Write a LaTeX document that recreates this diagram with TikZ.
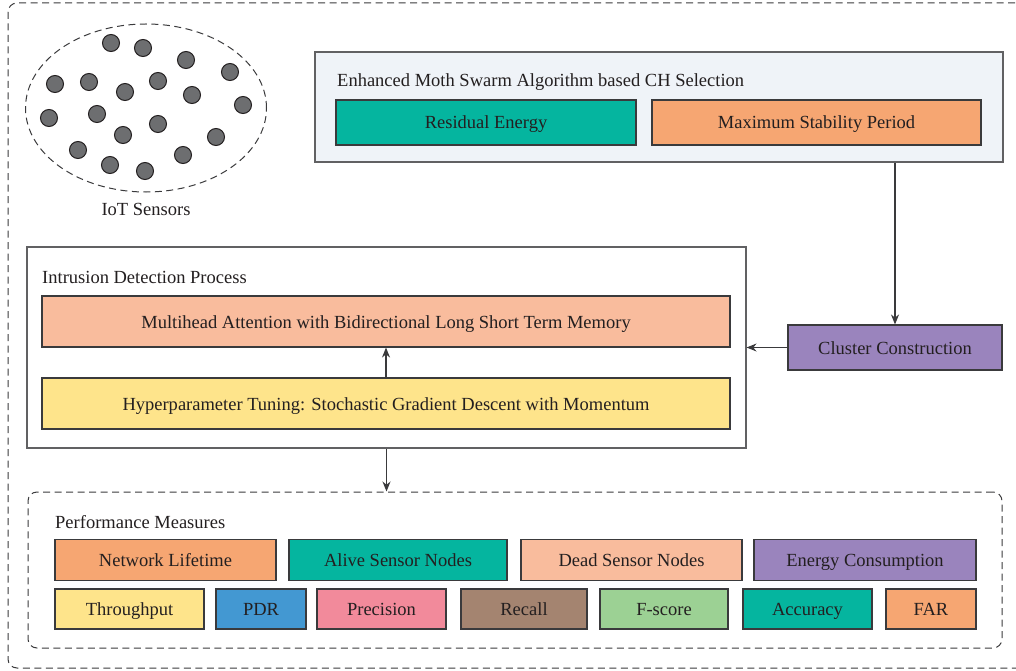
\documentclass[tikz,border=0pt]{standalone}
\usepackage{fontspec}
\setmainfont{Liberation Serif}
\usetikzlibrary{arrows.meta,shapes.geometric}
\definecolor{txt}{HTML}{231F20}
\definecolor{bord}{HTML}{3A3A3C}
\definecolor{teal}{HTML}{05B59F}
\definecolor{orng}{HTML}{F6A672}
\definecolor{peach}{HTML}{F9BC9D}
\definecolor{purp}{HTML}{9A84BD}
\definecolor{yell}{HTML}{FEE48B}
\definecolor{blu}{HTML}{4398D2}
\definecolor{pink}{HTML}{F28A9B}
\definecolor{brwn}{HTML}{A48470}
\definecolor{grn}{HTML}{9CD194}
\definecolor{panel}{HTML}{EFF3F8}
\definecolor{dotc}{HTML}{6D6E70}
\tikzset{
  box/.style={draw=bord, line width=1.1pt, inner sep=0pt, text=txt, text height=14pt, text depth=1pt, font=\fontsize{18.5}{21}\selectfont},
  title/.style={anchor=west, inner sep=0pt, text=txt, font=\fontsize{18.5}{21}\selectfont},
  frame/.style={draw=bord!80, line width=1.1pt, inner sep=0pt},
  arr/.style={draw=bord, line width=1.1pt, -{Stealth[length=10pt,width=8pt]}},
  dot/.style={circle, draw=txt, line width=1pt, fill=dotc, minimum size=17pt, inner sep=0pt},
  dashbox/.style={draw=bord, line width=1pt, dash pattern=on 7pt off 4.5pt, rounded corners=9pt}
}
\begin{document}
\begin{tikzpicture}[x=1pt,y=-1pt]
\useasboundingbox (0,0) rectangle (1016,671);
\clip (0,0) rectangle (1016,671);
% outer frame
\draw[dashbox] (8,3) rectangle (1030,668);
% IoT sensors
\node[ellipse, draw=bord, line width=1pt, dash pattern=on 7pt off 4.5pt, minimum width=241pt, minimum height=168pt, inner sep=0pt] (cloud) at (146,108) {};
\foreach \i/\p in {1/{(111,43)},2/{(143,48)},3/{(186,60)},4/{(230,72)},5/{(55,84)},6/{(89,82)},7/{(125,92)},8/{(158,81)},9/{(192,95)},10/{(243,105)},11/{(49,118)},12/{(97,114)},13/{(158,124)},14/{(123,135)},15/{(216,137)},16/{(78,150)},17/{(183,155)},18/{(110,165)},19/{(145,171)}}
  \node[dot] (d\i) at \p {};
\node[title, anchor=center] (iot) at (146,209) {IoT Sensors};
% CH selection
\node[frame, fill=panel, minimum width=688pt, minimum height=110pt] (ch) at (659,107) {};
\node[title] (cht) at (337,82) {Enhanced Moth Swarm Algorithm based CH Selection};
\node[box, fill=teal, minimum width=300pt, minimum height=45pt] (re) at (486,122.5) {Residual Energy};
\node[box, fill=orng, minimum width=329pt, minimum height=45pt] (msp) at (816.5,122.5) {Maximum Stability Period};
% cluster construction
\node[box, fill=purp, minimum width=214pt, minimum height=45pt] (cc) at (895,347.5) {Cluster Construction};
% intrusion detection
\node[frame, fill=white, minimum width=719pt, minimum height=201pt] (idp) at (386.5,347.5) {};
\node[title] (idpt) at (42,277) {Intrusion Detection Process};
\node[box, fill=peach, minimum width=688pt, minimum height=51pt] (mha) at (386,321.5) {Multihead Attention with Bidirectional Long Short Term Memory};
\node[box, fill=yell, minimum width=688pt, minimum height=51pt] (hyp) at (386,403.5) {Hyperparameter Tuning: Stochastic Gradient Descent with Momentum};
% performance measures
\node[dashbox, minimum width=974pt, minimum height=156pt, inner sep=0pt] (pm) at (515,570) {};
\node[title] (pmt) at (55,522) {Performance Measures};
\node[box, fill=orng, minimum width=221pt, minimum height=41pt] (nl) at (165.5,560) {Network Lifetime};
\node[box, fill=teal, minimum width=218pt, minimum height=41pt] (asn) at (398,560) {Alive Sensor Nodes};
\node[box, fill=peach, minimum width=221pt, minimum height=41pt] (dsn) at (631.5,560) {Dead Sensor Nodes};
\node[box, fill=purp, minimum width=222pt, minimum height=41pt] (ec) at (865,560) {Energy Consumption};
\node[box, fill=yell, minimum width=149pt, minimum height=40pt] (tp) at (129.5,609) {Throughput};
\node[box, fill=blu, minimum width=90pt, minimum height=40pt] (pdr) at (261,609) {PDR};
\node[box, fill=pink, minimum width=129pt, minimum height=40pt] (pre) at (381.5,609) {Precision};
\node[box, fill=brwn, minimum width=126pt, minimum height=40pt] (rec) at (524,609) {Recall};
\node[box, fill=grn, minimum width=128pt, minimum height=40pt] (fs) at (664,609) {F-score};
\node[box, fill=teal, minimum width=129pt, minimum height=40pt] (acc) at (807.5,609) {Accuracy};
\node[box, fill=orng, minimum width=90pt, minimum height=40pt] (far) at (931,609) {FAR};
% connectors
\draw[arr] (ch.south -| cc.north) -- (cc.north);
\draw[arr] (cc.west) -- (idp.east |- cc.west);
\draw[arr] (hyp.north) -- (mha.south);
\draw[arr] (idp.south) -- (idp.south |- pm.north);
\end{tikzpicture}
\end{document}
